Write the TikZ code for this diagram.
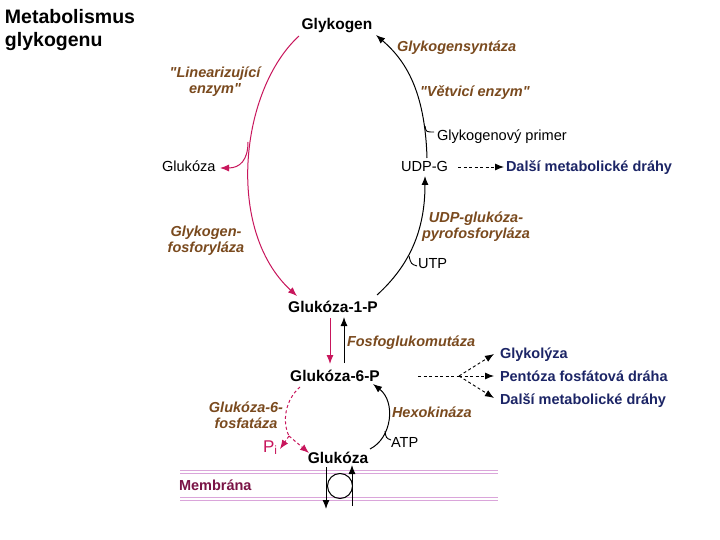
\documentclass[tikz,border=0pt]{standalone}
\usepackage{fontspec}
\setmainfont{Liberation Sans}
\newfontfamily\qf{Liberation Sans}
\usetikzlibrary{arrows.meta}
\definecolor{pinkc}{RGB}{200,22,92}
\definecolor{brownc}{RGB}{122,74,30}
\definecolor{navyc}{RGB}{28,37,102}
\definecolor{membc}{RGB}{122,20,70}
\definecolor{membl}{RGB}{218,165,218}
\newcommand{\sq}{{\qf\bfseries\itshape"}}
\begin{document}
\begin{tikzpicture}[x=1pt,y=-1pt,
  every node/.style={inner sep=0pt, outer sep=0pt},
  txt/.style={font=\fontsize{14.6}{16}\selectfont, anchor=base west},
  met/.style={font=\bfseries\fontsize{15.5}{18}\selectfont, anchor=base},
  enz/.style={font=\bfseries\itshape\fontsize{14.5}{16.5}\selectfont, text=brownc, anchor=base west},
  enzc/.style={font=\bfseries\itshape\fontsize{14.5}{16}\selectfont, text=brownc, align=center, anchor=center},
  pathx/.style={font=\bfseries\fontsize{14.5}{17}\selectfont, text=navyc, anchor=base west},
  tipx/.style={-{Latex[length=9pt,width=7pt]}},
  pinkarr/.style={draw=pinkc, line width=1pt, tipx},
  blackarr/.style={draw=black, line width=1pt, tipx},
  hookx/.style={draw=black, line width=0.9pt},
  dsh/.style={dash pattern=on 3pt off 2.5pt},
  membline/.style={draw=membl, line width=0.8pt}
]
\useasboundingbox[fill=white] (0,0) rectangle (720,540);

% title
\node[font=\bfseries\fontsize{19.5}{23}\selectfont, align=left, anchor=base west] (title) at (5,47) {Metabolismus\\glykogenu};

% metabolites
\node[met] (glykogen) at (337,30) {Glykogen};
\node[met] (g1p) at (333,312) {Glukóza-1-P};
\node[met] (g6p) at (335,381) {Glukóza-6-P};
\node[met] (glub) at (338,463) {Glukóza};
\node[txt] (glul) at (162,172) {Glukóza};
\node[txt] (udpg) at (401,172) {UDP-G};
\node[txt] (primer) at (437,141) {Glykogenový primer};
\node[txt] (utp) at (418,268) {UTP};
\node[txt] (atp) at (391,447) {ATP};
\node[font=\fontsize{17}{19}\selectfont, text=pinkc, anchor=base west] (pi) at (263,452) {P\textsubscript{i}};

% enzymes
\node[enz] (gsyn) at (397,52) {Glykogensyntáza};
\node[enzc] (linenz) at (215,82) {\sq Linearizující\\enzym\sq};
\node[enz] (vetv) at (420,97) {\sq Větvicí enzym\sq};
\node[enzc] (gfos) at (206,241) {Glykogen-\\fosforyláza};
\node[enzc] (udppyro) at (476,227) {UDP-glukóza-\\pyrofosforyláza};
\node[enz] (fgm) at (347,346) {Fosfoglukomutáza};
\node[enzc] (g6pase) at (246,415) {Glukóza-6-\\fosfatáza};
\node[enz] (hexo) at (392,417) {Hexokináza};

% other pathways
\node[pathx] (dalsi1) at (506,172) {Další metabolické dráhy};
\node[pathx] (glykol) at (500,358) {Glykolýza};
\node[pathx] (pento) at (500,381) {Pentóza fosfátová dráha};
\node[pathx] (dalsi2) at (500,404) {Další metabolické dráhy};
\node[font=\bfseries\fontsize{14.5}{17}\selectfont, text=membc, anchor=base west] (memb) at (179,490) {Membrána};

% coordinates
\coordinate (lA) at (299,36);
\coordinate (lB) at (297,296);
\coordinate (lbr) at (248,142);
\coordinate (lgl) at (220,168);
\coordinate (rA) at (377,295);
\coordinate (rB) at (425,176);
\coordinate (rC) at (427,158);
\coordinate (rD) at (376,35);
\coordinate (m1) at (330,318);
\coordinate (m2) at (330,364);
\coordinate (m3) at (344,363);
\coordinate (m4) at (344,317);
\coordinate (d1) at (458,167);
\coordinate (d2) at (504,167);
\coordinate (s0) at (418,376);
\coordinate (s1) at (459,376);
\coordinate (t1) at (494,354);
\coordinate (t2) at (494,376);
\coordinate (t3) at (494,398);
\coordinate (p0) at (300,387);
\coordinate (p1) at (289,436);
\coordinate (p2) at (280,449);
\coordinate (p3) at (309,453);
\coordinate (h0) at (370,449);
\coordinate (h1) at (373,384);
\coordinate (tc) at (340,486);
\coordinate (ta) at (326,467);
\coordinate (tb) at (326,509);
\coordinate (tcc) at (352,506);
\coordinate (td) at (352,465);

% left (degradation) arc
\draw[pinkarr] (lA) .. controls (240,90) and (225,230) .. (lB);
\draw[pinkarr] (lbr) .. controls (248,160) and (240,168) .. (lgl);

% right (synthesis) arc
\draw[blackarr] (rA) .. controls (410,265) and (425,230) .. (rB);
\draw[blackarr] (rC) .. controls (425,90) and (405,60) .. (rD);
\draw[hookx] (425,126) .. controls (426,132) .. (434,132);
\draw[hookx] (409,256) .. controls (411,264) .. (417,266);

% G1P <-> G6P
\draw[pinkarr] (m1) -- (m2);
\draw[blackarr] (m3) -- (m4);

% dashed pathways
\draw[line width=0.9pt, dsh, tipx] (d1) -- (d2);
\draw[line width=0.9pt, dsh] (s0) -- (s1);
\draw[line width=0.9pt, dsh, tipx] (s1) -- (t1);
\draw[line width=0.9pt, dsh, tipx] (s1) -- (t2);
\draw[line width=0.9pt, dsh, tipx] (s1) -- (t3);

% glucose-6-phosphatase
\draw[draw=pinkc, line width=1pt, dsh] (p0) .. controls (285,400) and (282,422) .. (p1);
\draw[pinkarr, dsh] (p1) -- (p2);
\draw[pinkarr, dsh] (p1) -- (p3);

% hexokinase
\draw[blackarr] (h0) .. controls (392,438) and (396,402) .. (h1);
\draw[hookx] (385,431) .. controls (386,438) .. (391,440);

% membrane
\foreach \yy in {470,473,497,500} \draw[membline] (180,\yy) -- (498,\yy);
\draw[line width=1pt] (tc) circle[radius=12.5pt];
\draw[blackarr] (ta) -- (tb);
\draw[blackarr] (tcc) -- (td);
\end{tikzpicture}
\end{document}
